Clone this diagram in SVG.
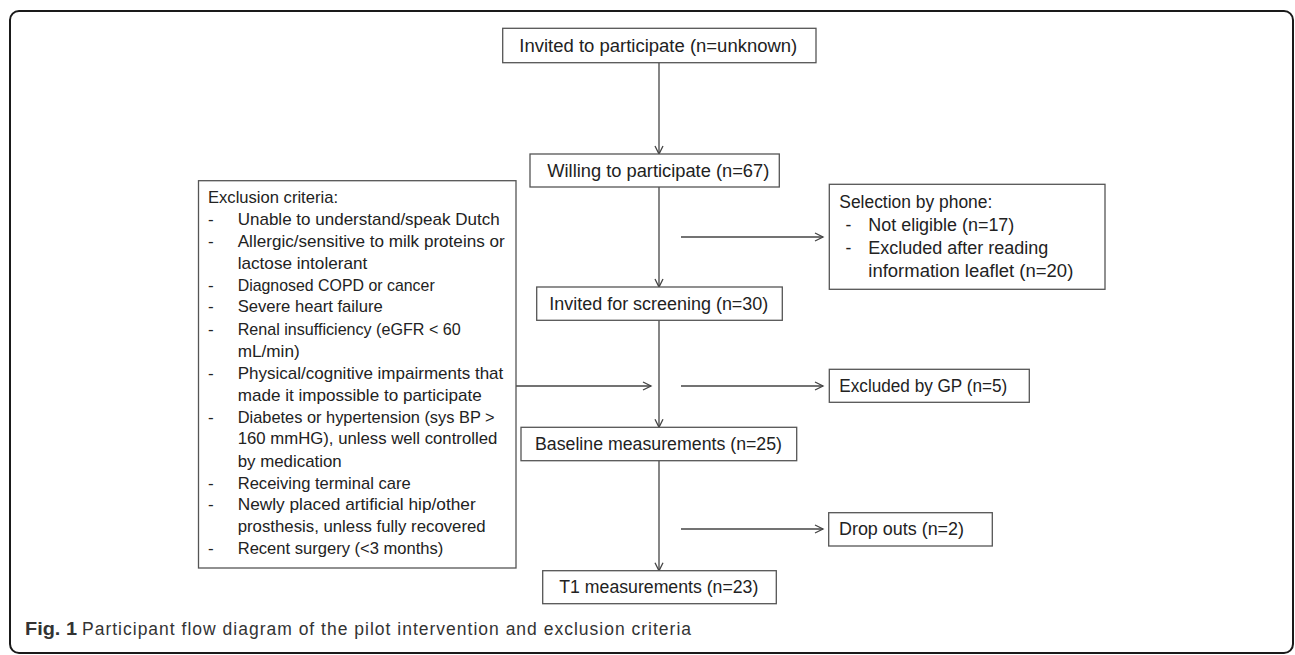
<svg xmlns="http://www.w3.org/2000/svg" width="1295" height="655" viewBox="0 0 1295 655">
<style>
.box{fill:#fff;stroke:#555;stroke-width:1.3}
.t{font-family:"Liberation Sans",Arial,sans-serif;font-size:17.5px;fill:#222}
.e{font-family:"Liberation Sans",Arial,sans-serif;font-size:17px;fill:#222}
.c{stroke:#444;stroke-width:1.3;fill:none}
.cap{font-family:"Liberation Sans",Arial,sans-serif;font-size:17.5px;fill:#333}
</style>
<defs>
<marker id="ah" markerWidth="12" markerHeight="12" refX="9" refY="5" orient="auto" markerUnits="userSpaceOnUse">
<path d="M1,1 L9,5 L1,9" fill="none" stroke="#444" stroke-width="1.3"/>
</marker>
</defs>
<rect x="0" y="0" width="1295" height="655" fill="#fff"/>
<rect id="frame" x="10" y="11" width="1283" height="642" rx="9" ry="9" fill="none" stroke="#1a1a1a" stroke-width="2"/>

<g id="connectors">
<line class="c" x1="659" y1="62.7" x2="659" y2="154" marker-end="url(#ah)"/>
<line class="c" x1="659" y1="187" x2="659" y2="287" marker-end="url(#ah)"/>
<line class="c" x1="681" y1="237" x2="823" y2="237" marker-end="url(#ah)"/>
<line class="c" x1="659" y1="320.3" x2="659" y2="427.3" marker-end="url(#ah)"/>
<line class="c" x1="516" y1="386" x2="651" y2="386" marker-end="url(#ah)"/>
<line class="c" x1="681" y1="386" x2="823" y2="386" marker-end="url(#ah)"/>
<line class="c" x1="659" y1="460.7" x2="659" y2="570.7" marker-end="url(#ah)"/>
<line class="c" x1="681" y1="529" x2="823" y2="529" marker-end="url(#ah)"/>
</g>

<g id="invited">
<rect class="box" x="502.7" y="28.3" width="313.3" height="34.4"/>
<text class="t" x="519.3" y="52" textLength="278" lengthAdjust="spacingAndGlyphs">Invited to participate (n=unknown)</text>
</g>
<g id="willing">
<rect class="box" x="530" y="154" width="249.3" height="33"/>
<text class="t" x="547.3" y="177" textLength="222" lengthAdjust="spacingAndGlyphs">Willing to participate (n=67)</text>
</g>
<g id="selection">
<rect class="box" x="829.3" y="184.3" width="275.7" height="105"/>
<text class="t" x="839.3" y="208" textLength="153" lengthAdjust="spacingAndGlyphs">Selection by phone:</text>
<text class="t" x="845.5" y="231">-</text>
<text class="t" x="868.3" y="231" textLength="146" lengthAdjust="spacingAndGlyphs">Not eligible (n=17)</text>
<text class="t" x="845.5" y="254">-</text>
<text class="t" x="868.3" y="254" textLength="180" lengthAdjust="spacingAndGlyphs">Excluded after reading</text>
<text class="t" x="868.3" y="277" textLength="205" lengthAdjust="spacingAndGlyphs">information leaflet (n=20)</text>
</g>
<g id="screening">
<rect class="box" x="536.7" y="287" width="245.6" height="33.3"/>
<text class="t" x="549.3" y="310" textLength="219" lengthAdjust="spacingAndGlyphs">Invited for screening (n=30)</text>
</g>
<g id="excluded-gp">
<rect class="box" x="829.3" y="369.3" width="200" height="33"/>
<text class="t" x="839.3" y="392" textLength="168" lengthAdjust="spacingAndGlyphs">Excluded by GP (n=5)</text>
</g>
<g id="baseline">
<rect class="box" x="521" y="427.3" width="275.7" height="33.4"/>
<text class="t" x="535" y="450" textLength="247" lengthAdjust="spacingAndGlyphs">Baseline measurements (n=25)</text>
</g>
<g id="dropouts">
<rect class="box" x="828.7" y="512.7" width="163.6" height="33.3"/>
<text class="t" x="839" y="535" textLength="125" lengthAdjust="spacingAndGlyphs">Drop outs (n=2)</text>
</g>
<g id="t1">
<rect class="box" x="542.7" y="570.7" width="233.6" height="33"/>
<text class="t" x="559.3" y="593" textLength="199" lengthAdjust="spacingAndGlyphs">T1 measurements (n=23)</text>
</g>

<g id="exclusion">
<rect class="box" x="198.5" y="180.7" width="317.5" height="387.3"/>
<text class="e" x="208" y="203" textLength="130" lengthAdjust="spacingAndGlyphs">Exclusion criteria:</text>
<g class="e">
<text x="208" y="225">-</text>
<text x="208" y="247">-</text>
<text x="208" y="291">-</text>
<text x="208" y="312">-</text>
<text x="208" y="335">-</text>
<text x="208" y="379">-</text>
<text x="208" y="423">-</text>
<text x="208" y="489">-</text>
<text x="208" y="510">-</text>
<text x="208" y="554">-</text>
</g>
<text class="e" x="237.7" y="225" textLength="262" lengthAdjust="spacingAndGlyphs">Unable to understand/speak Dutch</text>
<text class="e" x="237.7" y="247" textLength="267" lengthAdjust="spacingAndGlyphs">Allergic/sensitive to milk proteins or</text>
<text class="e" x="237.7" y="269" textLength="129.6" lengthAdjust="spacingAndGlyphs">lactose intolerant</text>
<text class="e" x="237.7" y="291" textLength="197" lengthAdjust="spacingAndGlyphs">Diagnosed COPD or cancer</text>
<text class="e" x="237.7" y="312" textLength="145" lengthAdjust="spacingAndGlyphs">Severe heart failure</text>
<text class="e" x="237.7" y="335" textLength="223" lengthAdjust="spacingAndGlyphs">Renal insufficiency (eGFR &lt; 60</text>
<text class="e" x="237.7" y="357" textLength="62" lengthAdjust="spacingAndGlyphs">mL/min)</text>
<text class="e" x="237.7" y="379" textLength="265.6" lengthAdjust="spacingAndGlyphs">Physical/cognitive impairments that</text>
<text class="e" x="237.7" y="401" textLength="244" lengthAdjust="spacingAndGlyphs">made it impossible to participate</text>
<text class="e" x="237.7" y="423" textLength="257" lengthAdjust="spacingAndGlyphs">Diabetes or hypertension (sys BP &gt;</text>
<text class="e" x="237.7" y="444" textLength="259.6" lengthAdjust="spacingAndGlyphs">160 mmHG), unless well controlled</text>
<text class="e" x="237.7" y="467" textLength="104" lengthAdjust="spacingAndGlyphs">by medication</text>
<text class="e" x="237.7" y="489" textLength="173" lengthAdjust="spacingAndGlyphs">Receiving terminal care</text>
<text class="e" x="237.7" y="510" textLength="238" lengthAdjust="spacingAndGlyphs">Newly placed artificial hip/other</text>
<text class="e" x="237.7" y="532" textLength="248" lengthAdjust="spacingAndGlyphs">prosthesis, unless fully recovered</text>
<text class="e" x="237.7" y="554" textLength="205.6" lengthAdjust="spacingAndGlyphs">Recent surgery (&lt;3 months)</text>
</g>

<g id="caption">
<text class="cap" x="25" y="635" font-weight="bold" fill="#111" textLength="52" lengthAdjust="spacingAndGlyphs">Fig. 1</text>
<text class="cap" x="82" y="635" textLength="609" lengthAdjust="spacing">Participant flow diagram of the pilot intervention and exclusion criteria</text>
</g>
</svg>
